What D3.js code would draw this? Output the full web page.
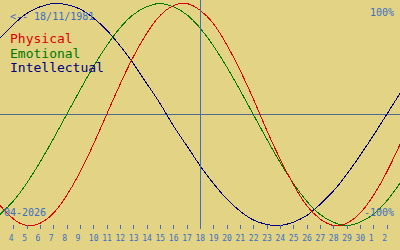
<!DOCTYPE html>
<html>
<head>
<meta charset="utf-8">
<script src="https://cdn.jsdelivr.net/npm/d3@7"></script>
<style>
  html, body { margin: 0; padding: 0; background: #e2d385; }
  svg { display: block; }
  text { font-family: 'DejaVu Sans Mono', monospace; }
</style>
</head>
<body>
<div id="chart"></div>
<script>
// days shown: 3 April 2026 .. 3 May 2026 (today = 18)
const dayNumbers = [3, 4, 5, 6, 7, 8, 9, 10, 11, 12, 13, 14, 15, 16, 17, 18, 19, 20,
  21, 22, 23, 24, 25, 26, 27, 28, 29, 30, 1, 2, 3]
const todayIndex = 15

const physical = [-0.82, -0.94, -1.00, -0.98, -0.89, -0.73, -0.52, -0.27, 0.00, 0.27,
  0.52, 0.73, 0.89, 0.98, 1.00, 0.94, 0.82, 0.63, 0.40, 0.14, -0.14, -0.40, -0.63,
  -0.82, -0.94, -1.00, -0.98, -0.89, -0.73, -0.52, -0.27]
const emotional = [-0.90, -0.78, -0.62, -0.43, -0.22, 0.00, 0.22, 0.43, 0.62, 0.78,
  0.90, 0.97, 1.00, 0.97, 0.90, 0.78, 0.62, 0.43, 0.22, 0.00, -0.22, -0.43, -0.62,
  -0.78, -0.90, -0.97, -1.00, -0.97, -0.90, -0.78, -0.62]
const intellectual = [0.69, 0.81, 0.91, 0.97, 1.00, 0.99, 0.95, 0.87, 0.76, 0.62,
  0.46, 0.28, 0.10, -0.10, -0.28, -0.46, -0.62, -0.76, -0.87, -0.95, -0.99, -1.00,
  -0.97, -0.91, -0.81, -0.69, -0.54, -0.37, -0.19, 0.00, 0.19]

const WIDTH = 400
const HEIGHT = 250

const svg = d3.select('#chart')
  .append('svg')
    .attr('width', WIDTH)
    .attr('height', HEIGHT)

svg.append('rect')
  .attr('width', WIDTH)
  .attr('height', HEIGHT)
  .attr('fill', '#e2d385')

const x = d3.scaleLinear()
  .domain([0, dayNumbers.length - 1])
  .range([0, WIDTH])

const y = d3.scaleLinear()
  .domain([-1, 1])
  .range([225.5, 3.5])

// zero line
svg.append('line')
  .attr('x1', 0).attr('x2', WIDTH)
  .attr('y1', y(0)).attr('y2', y(0))
  .attr('stroke', '#4e6b8c')
  .attr('shape-rendering', 'crispEdges')

const line = d3.line()
  .x((d, i) => x(i))
  .y(d => y(d))
  .curve(d3.curveNatural)

const series = [
  { name: 'Intellectual', values: intellectual, color: '#000080' },
  { name: 'Emotional', values: emotional, color: '#007800' },
  { name: 'Physical', values: physical, color: '#dd0000' }
]

series.forEach(s => {
  svg.append('path')
    .datum(s.values)
    .attr('d', line)
    .attr('fill', 'none')
    .attr('stroke', s.color)
    .attr('stroke-width', 1)
    .attr('shape-rendering', 'crispEdges')
})

// axis with day numbers
const tickIdx = d3.range(1, dayNumbers.length - 1)
const xAxis = d3.axisBottom(x)
  .tickValues(tickIdx)
  .tickFormat(i => dayNumbers[i])
  .tickSize(4)
  .tickPadding(3)

const axisG = svg.append('g')
  .attr('transform', 'translate(0, 225)')
  .call(xAxis)

axisG.select('.domain').remove()
axisG.selectAll('.tick line')
  .attr('stroke', '#3b6fc4')
  .attr('shape-rendering', 'crispEdges')
axisG.selectAll('.tick text')
  .attr('fill', '#3b6fc4')
  .attr('font-size', 8)
  .attr('font-family', 'DejaVu Sans Mono, monospace')
  .attr('text-anchor', 'start')
  .attr('dx', -5)
  .attr('dy', 0)
  .attr('y', 16)

// today marker
svg.append('line')
  .attr('x1', x(todayIndex)).attr('x2', x(todayIndex))
  .attr('y1', 0).attr('y2', 229)
  .attr('stroke', '#3b6fc4')
  .attr('shape-rendering', 'crispEdges')

// labels
svg.append('text')
  .attr('x', 10).attr('y', 20)
  .attr('font-size', 10)
  .attr('fill', '#3b6fc4')
  .text('<-- 18/11/1981')

svg.append('text')
  .attr('x', 394).attr('y', 16)
  .attr('font-size', 10)
  .attr('text-anchor', 'end')
  .attr('fill', '#3b6fc4')
  .text('100%')

svg.append('text')
  .attr('x', 394).attr('y', 216)
  .attr('font-size', 10)
  .attr('text-anchor', 'end')
  .attr('fill', '#3b6fc4')
  .text('-100%')

svg.append('text')
  .attr('x', 4).attr('y', 216)
  .attr('font-size', 10)
  .attr('fill', '#3b6fc4')
  .text('04-2026')

const legend = [
  { name: 'Physical', color: '#dd0000' },
  { name: 'Emotional', color: '#007800' },
  { name: 'Intellectual', color: '#000080' }
]

svg.selectAll('.legend')
  .data(legend)
  .enter().append('text')
    .attr('class', 'legend')
    .attr('x', 10)
    .attr('y', (d, i) => 43 + i * 14.5)
    .attr('font-size', 13)
    .attr('fill', d => d.color)
    .text(d => d.name)
</script>
</body>
</html>
